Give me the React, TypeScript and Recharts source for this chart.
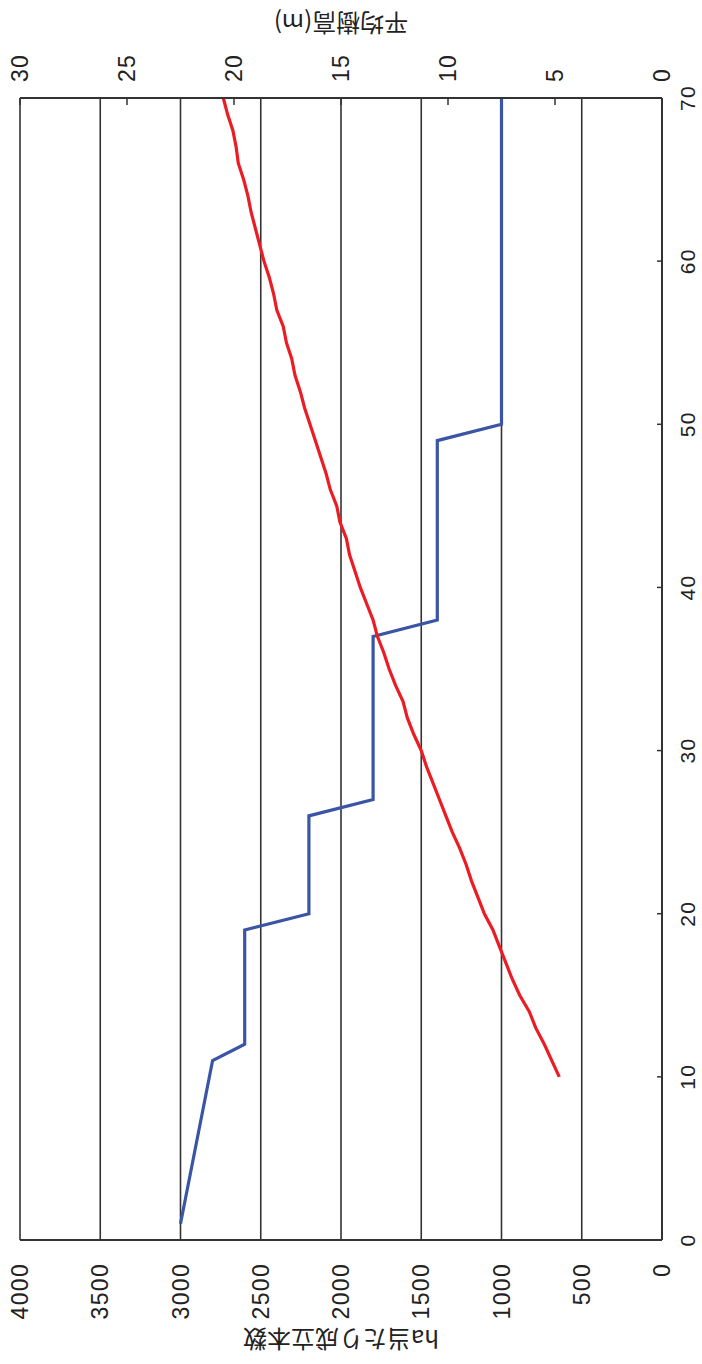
import { CartesianGrid, Line, LineChart, XAxis, YAxis } from 'recharts';

// stand age (years) and stems per ha
const densityAges = [1, 11, 12, 19, 20, 26, 27, 37, 38, 49, 50, 70];
const densityValues = [3000, 2800, 2600, 2600, 2200, 2200, 1800, 1800, 1400, 1400, 1000, 1000];

// stand age (years) and mean tree height (m)
const heightAges = [
  10, 11, 12, 13, 14, 15, 16, 17, 18, 19, 20, 21, 22, 23, 24, 25, 26, 27, 28, 29, 30,
  31, 32, 33, 34, 35, 36, 37, 38, 39, 40, 41, 42, 43, 44, 45, 46, 47, 48, 49, 50,
  51, 52, 53, 54, 55, 56, 57, 58, 59, 60, 61, 62, 63, 64, 65, 66, 67, 68, 69, 70,
];
const heightValues = [
  4.8, 5.15, 5.5, 5.9, 6.2, 6.65, 7.0, 7.3, 7.6, 7.9, 8.3, 8.6, 8.9, 9.15, 9.45, 9.8, 10.1, 10.4, 10.7, 11.0, 11.25,
  11.6, 11.9, 12.1, 12.45, 12.75, 13.0, 13.3, 13.5, 13.8, 14.1, 14.35, 14.6, 14.75, 15.05, 15.2, 15.5, 15.7, 15.95, 16.2, 16.45,
  16.7, 16.9, 17.15, 17.3, 17.55, 17.7, 18.0, 18.15, 18.35, 18.6, 18.8, 19.0, 19.2, 19.35, 19.55, 19.8, 19.9, 20.05, 20.3, 20.5,
];

const ageTicks = [0, 10, 20, 30, 40, 50, 60, 70];
const densityTicks = [0, 500, 1000, 1500, 2000, 2500, 3000, 3500, 4000];
const heightTicks = [0, 5, 10, 15, 20, 25, 30];

const densityTitle = 'ha当たり成立本数';
const heightTitle = '平均樹高(m)';

const densityData = densityAges.map((age, i) => ({ age, density: densityValues[i] }));
const heightData = heightAges.map((age, i) => ({ age, height: heightValues[i] }));

const W = 1364;
const H = 702;
const tickFont = { fontFamily: 'Liberation Sans, Arial, sans-serif', fontSize: 23, fill: '#222', letterSpacing: 1.3 };
const ageTickFont = { ...tickFont, fontSize: 21 };
const titleStyle: React.CSSProperties = {
  position: 'absolute',
  top: 341,
  transform: 'translate(-50%, -50%) rotate(-90deg)',
  whiteSpace: 'nowrap',
  fontFamily: '"Noto Sans CJK JP", sans-serif',
  fontSize: 24,
  color: '#222',
  lineHeight: 1,
};

export default function App() {
  return (
    <div style={{ position: 'absolute', left: 0, top: 0, width: H, height: W, overflow: 'hidden', background: '#fff' }}>
      <div
        style={{
          position: 'absolute',
          left: 0,
          top: 0,
          width: W,
          height: H,
          transformOrigin: '0 0',
          transform: `translateY(${W}px) rotate(-90deg)`,
        }}
      >
        <LineChart width={W} height={H} margin={{ top: 20, right: 0, bottom: 0, left: 0 }}>
          <CartesianGrid horizontal vertical={false} stroke="#333" strokeWidth={1.6} yAxisId="density" />
          <XAxis
            dataKey="age"
            type="number"
            domain={[0, 70]}
            ticks={ageTicks}
            allowDuplicatedCategory={false}
            height={40}
            axisLine={{ stroke: '#333', strokeWidth: 2 }}
            tickLine={{ stroke: '#333', strokeWidth: 1.5 }}
            tickSize={-5}
            tickMargin={23}
            tick={ageTickFont}
          />
          <YAxis
            yAxisId="density"
            orientation="left"
            domain={[0, 4000]}
            ticks={densityTicks}
            width={124}
            axisLine={{ stroke: '#333', strokeWidth: 2 }}
            tickLine={false}
            tickSize={0}
            tickMargin={23}
            tick={tickFont}
          />
          <YAxis
            yAxisId="height"
            orientation="right"
            domain={[0, 30]}
            ticks={heightTicks}
            width={98}
            axisLine={{ stroke: '#333', strokeWidth: 2 }}
            tickLine={{ stroke: '#333', strokeWidth: 1.5 }}
            tickSize={-7}
            tickMargin={23}
            tick={tickFont}
          />
          <Line
            yAxisId="density"
            data={densityData}
            dataKey="density"
            type="linear"
            stroke="#3a55a6"
            strokeWidth={3.2}
            dot={false}
            isAnimationActive={false}
          />
          <Line
            yAxisId="height"
            data={heightData}
            dataKey="height"
            type="linear"
            stroke="#ec1c24"
            strokeWidth={3.2}
            dot={false}
            isAnimationActive={false}
          />
        </LineChart>
        <div style={{ ...titleStyle, left: 24 }}>{densityTitle}</div>
        <div style={{ ...titleStyle, left: 1340 }}>{heightTitle}</div>
      </div>
    </div>
  );
}
